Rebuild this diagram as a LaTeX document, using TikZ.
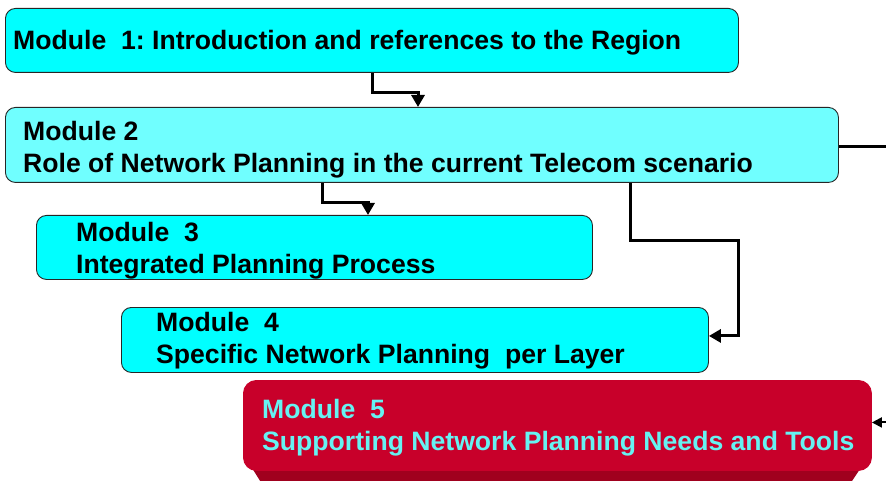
\documentclass[tikz,border=0pt]{standalone}
\usepackage{fontspec}
\setmainfont{Liberation Sans}
\usepackage[x11names, svgnames]{xcolor}
\usepackage{tikz}
\usetikzlibrary{arrows.meta, calc}
\definecolor{modcyan}{HTML}{00FFFF}
\definecolor{modlight}{HTML}{70FFFF}
\definecolor{modred}{HTML}{C8002A}
\definecolor{modshade}{HTML}{A0001E}
\definecolor{modtext}{HTML}{66F2F2}
\tikzset{
	module/.style={draw=black!85, line width=0.9pt, rounded corners=10pt, fill=modcyan, anchor=north west, inner sep=0pt},
	modlabel/.style={anchor=west, align=left, inner sep=0pt, font=\bfseries\fontsize{26.6}{32}\selectfont\frenchspacing},
	link/.style={line width=3pt, -{Triangle[width=13pt,length=12pt]}},
	thinlink/.style={line width=2pt, -{Triangle[width=10pt,length=10pt]}}
}

\begin{document}
\begin{tikzpicture}[x=1pt, y=-1pt]
	\useasboundingbox (0,0) rectangle (886,481);
	\coordinate (R) at (886,0);

	% boxes
	\node[module, minimum width=733pt, minimum height=64pt] (m1) at (5,8) {};
	\node[module, fill=modlight, minimum width=833pt, minimum height=75pt] (m2) at (5,107) {};
	\node[module, minimum width=556pt, minimum height=64pt] (m3) at (36,215) {};
	\node[module, minimum width=587pt, minimum height=65pt] (m4) at (121,307) {};

	\fill[modshade] (247,460) -- (262,484) -- (850,484) -- (866,460) -- cycle;
	\node[module, draw=modred, fill=modred, rounded corners=13pt, minimum width=628pt, minimum height=90pt] (m5) at (243,380) {};

	% texts
	\node[modlabel] (t1) at ([xshift=8pt, yshift=-2pt]m1.west) {Module~~1: Introduction and references to the Region};
	\node[modlabel] (t2) at ([xshift=18pt, yshift=-5pt]m2.west) {Module 2\\Role of Network Planning in the current Telecom scenario};
	\node[modlabel] (t3) at ([xshift=40pt, yshift=-3pt]m3.west) {Module~~3\\Integrated Planning Process};
	\node[modlabel] (t4) at ([xshift=35pt, yshift=-1pt]m4.west) {Module~~4\\Specific Network Planning~~per Layer};
	\node[modlabel, text=modtext] (t5) at ([xshift=19pt, yshift=-2pt]m5.west) {Module~~5\\Supporting Network Planning Needs and Tools};

	% connectors
	\draw[link] ([xshift=367pt]m1.south west) |- ++(46,20) -- ([xshift=413pt]m2.north west);
	\draw[link] ([xshift=317pt]m2.south west) |- ++(46,20) -- ([xshift=332pt]m3.north west);
	\draw[link] ([xshift=625pt]m2.south west) |- ++(108,58) |- ([yshift=4pt]m4.east);
	\draw[line width=3pt] ([yshift=-2pt]m2.east) -- ([yshift=-2pt]m2.east -| R);
	\draw[thinlink] ([yshift=3pt]m5.east -| R) -- ([yshift=3pt]m5.east);
\end{tikzpicture}
\end{document}
